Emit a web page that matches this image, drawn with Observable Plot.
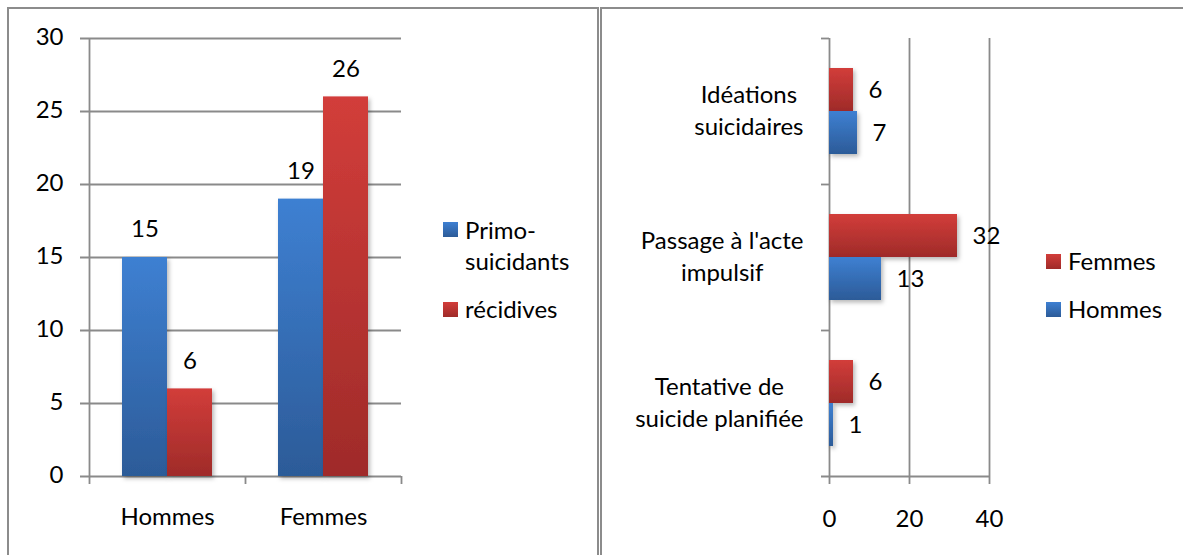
<!DOCTYPE html>
<html>
<head>
<meta charset="utf-8">
<script src="https://cdn.jsdelivr.net/npm/d3@7"></script>
<script src="https://cdn.jsdelivr.net/npm/@observablehq/plot@0.6"></script>
<style>
  html, body { margin: 0; padding: 0; background: #fff; }
  #wrap { position: relative; width: 1183px; height: 555px; overflow: hidden; font-family: Lato, "Open Sans", sans-serif; color: #000; }
  .panel { position: absolute; box-sizing: border-box; border: 2px solid #8c8c8c; }
  .chart { position: absolute; top: 0; }
  .leg { position: absolute; font-size: 24px; line-height: 31px; white-space: nowrap; }
  .sw { position: absolute; width: 15px; height: 15px; }
</style>
</head>
<body>
<div id="wrap"></div>
<script>
// ---------- data ----------
const genders = ["Hommes", "Femmes"];
const leftSeries = ["Primo-suicidants", "récidives"];
const primo = [15, 19];
const recidives = [6, 26];
const leftTicks = [0, 5, 10, 15, 20, 25, 30];

const motifs = ["Idéations suicidaires", "Passage à l'acte impulsif", "Tentative de suicide planifiée"];
const motifLines = [["Idéations", "suicidaires"], ["Passage à l'acte", "impulsif"], ["Tentative de", "suicide planifiée"]];
const rightSeries = ["Femmes", "Hommes"];
const femmes = [6, 32, 6];
const hommes = [7, 13, 1];
const rightTicks = [0, 20, 40];

// ---------- styles ----------
const blueTop = "#3e80d2", blueBot = "#2c5b98";
const redTop = "#d23d3a", redBot = "#9f2b29";
const grid = "#8a8a8a";
const FS = 24;
const font = "Lato, 'Open Sans', sans-serif";

const wrap = document.getElementById("wrap");
const ns = "http://www.w3.org/2000/svg";

function addDefs(svg, p) {
  const d = document.createElementNS(ns, "defs");
  d.innerHTML = `
    <linearGradient id="${p}Blue" x1="0" y1="0" x2="0" y2="1">
      <stop offset="0" stop-color="${blueTop}"/><stop offset="1" stop-color="${blueBot}"/>
    </linearGradient>
    <linearGradient id="${p}Red" x1="0" y1="0" x2="0" y2="1">
      <stop offset="0" stop-color="${redTop}"/><stop offset="1" stop-color="${redBot}"/>
    </linearGradient>
    <filter id="${p}Shadow" x="-20%" y="-20%" width="160%" height="160%">
      <feDropShadow dx="2" dy="2.5" stdDeviation="2" flood-color="#000" flood-opacity="0.28"/>
    </filter>`;
  svg.insertBefore(d, svg.firstChild);
  svg.querySelectorAll('g[aria-label="bar"]').forEach(g => g.setAttribute("filter", `url(#${p}Shadow)`));
}

// panels
function panel(l, t, w, h) {
  const d = document.createElement("div");
  d.className = "panel";
  Object.assign(d.style, {left: l + "px", top: t + "px", width: w + "px", height: h + "px"});
  wrap.appendChild(d);
}
panel(7, 7, 592, 600);
panel(600, 7, 640, 600);

// ---------- left chart ----------
{
  const W = 600, H = 555, mL = 89, mR = 199, mT = 38, mB = 79;
  const bw = (W - mL - mR) / genders.length;
  const barW = Math.round(bw * 0.29);
  const rows = genders.map((g, i) => ({g, primo: primo[i], recid: recidives[i]}));
  const svg = Plot.plot({
    width: W, height: H,
    marginLeft: mL, marginRight: mR, marginTop: mT, marginBottom: mB,
    style: {fontFamily: font, fontSize: FS + "px", background: "transparent", overflow: "visible", color: "#000"},
    x: {domain: genders, padding: 0, axis: null},
    y: {domain: [0, 30], axis: null},
    marks: [
      Plot.ruleY(leftTicks, {y: d => d, stroke: grid, strokeWidth: 1.8, insetLeft: -9}),
      Plot.ruleX(genders.slice(0, 1), {x: d => d, dx: -bw / 2, stroke: grid, strokeWidth: 1.8, insetBottom: -8}),
      Plot.ruleX(genders.slice(1), {x: d => d, dx: -bw / 2, y1: 0, y2: 0, stroke: grid, strokeWidth: 1.8, insetBottom: -8}),
      Plot.ruleX(genders.slice(-1), {x: d => d, dx: bw / 2, y1: 0, y2: 0, stroke: grid, strokeWidth: 1.8, insetBottom: -8}),
      Plot.barY(rows, {x: "g", y1: 0, y2: "primo", fill: "url(#LBlue)", insetLeft: bw / 2 - barW, insetRight: bw / 2}),
      Plot.barY(rows, {x: "g", y1: 0, y2: "recid", fill: "url(#LRed)", insetLeft: bw / 2, insetRight: bw / 2 - barW}),
      Plot.text(rows, {x: "g", y: "primo", text: d => String(d.primo), dx: -barW / 2, dy: -28, fontSize: FS, fill: "#000"}),
      Plot.text(rows, {x: "g", y: "recid", text: d => String(d.recid), dx: barW / 2, dy: -28, fontSize: FS, fill: "#000"}),
      Plot.text(leftTicks, {y: d => d, text: d => String(d), frameAnchor: "left", textAnchor: "end", lineAnchor: "middle", dx: -26, dy: -1.5, fontSize: FS, fill: "#000"}),
      Plot.text(genders, {x: d => d, text: d => d, frameAnchor: "bottom", lineAnchor: "middle", dy: 41, fontSize: FS, fill: "#000"})
    ]
  });
  svg.classList.add("chart");
  svg.style.left = "0px";
  addDefs(svg, "L");
  wrap.appendChild(svg);
}

// ---------- right chart ----------
{
  const W = 583, H = 555, mL = 229, mR = 194, mT = 38, mB = 79;
  const bh = (H - mT - mB) / motifs.length;
  const barH = Math.round(bh * 0.295);
  const rows = motifs.map((m, i) => ({m, f: femmes[i], h: hommes[i]}));
  const ctx = document.createElement("canvas").getContext("2d");
  ctx.font = `${FS}px Lato`;
  const catMarks = motifs.map((m, i) => {
    const maxW = d3.max(motifLines[i], s => ctx.measureText(s).width);
    return Plot.text([m], {y: d => d, text: () => motifLines[i].join("\n"), frameAnchor: "left", textAnchor: "middle",
      lineAnchor: "middle", lineHeight: 1.33, dx: -(26 + maxW / 2), dy: -2.5, fontSize: FS, fill: "#000"});
  });
  const svg = Plot.plot({
    width: W, height: H,
    marginLeft: mL, marginRight: mR, marginTop: mT, marginBottom: mB,
    style: {fontFamily: font, fontSize: FS + "px", background: "transparent", overflow: "visible", color: "#000"},
    x: {domain: [0, 40], axis: null},
    y: {domain: motifs, padding: 0, axis: null},
    marks: [
      Plot.ruleX(rightTicks, {x: d => d, stroke: grid, strokeWidth: 1.8, insetBottom: -8}),
      Plot.ruleY(motifs.slice(-1), {y: d => d, dy: bh / 2, stroke: grid, strokeWidth: 1.8, insetLeft: -8}),
      Plot.ruleY(motifs, {y: d => d, dy: -bh / 2, x1: 0, x2: 0, stroke: grid, strokeWidth: 1.8, insetLeft: -8}),
      Plot.barX(rows, {y: "m", x1: 0, x2: "f", fill: "url(#RRed)", insetTop: bh / 2 - barH, insetBottom: bh / 2}),
      Plot.barX(rows, {y: "m", x1: 0, x2: "h", fill: "url(#RBlue)", insetTop: bh / 2, insetBottom: bh / 2 - barH}),
      Plot.text(rows, {y: "m", x: "f", text: d => String(d.f), textAnchor: "start", dx: 15, dy: -barH / 2, fontSize: FS, fill: "#000"}),
      Plot.text(rows, {y: "m", x: "h", text: d => String(d.h), textAnchor: "start", dx: 15, dy: barH / 2, fontSize: FS, fill: "#000"}),
      Plot.text(rightTicks, {x: d => d, text: d => String(d), frameAnchor: "bottom", lineAnchor: "middle", dy: 43, fontSize: FS, fill: "#000"}),
      ...catMarks
    ]
  });
  svg.classList.add("chart");
  svg.style.left = "600px";
  addDefs(svg, "R");
  wrap.appendChild(svg);
}

// ---------- legends ----------
function swatch(x, y, top, bot) {
  const s = document.createElement("div");
  s.className = "sw";
  Object.assign(s.style, {left: x + "px", top: y + "px", background: `linear-gradient(${top}, ${bot})`});
  wrap.appendChild(s);
}
function legText(x, y, html) {
  const t = document.createElement("div");
  t.className = "leg";
  Object.assign(t.style, {left: x + "px", top: y + "px"});
  t.innerHTML = html;
  wrap.appendChild(t);
}
swatch(443, 222, blueTop, blueBot);
legText(465, 214, "Primo-<br>suicidants");
swatch(443, 302, redTop, redBot);
legText(465, 293, leftSeries[1]);

swatch(1046, 254, redTop, redBot);
legText(1068, 245, rightSeries[0]);
swatch(1046, 302, blueTop, blueBot);
legText(1068, 293, rightSeries[1]);
</script>
</body>
</html>
